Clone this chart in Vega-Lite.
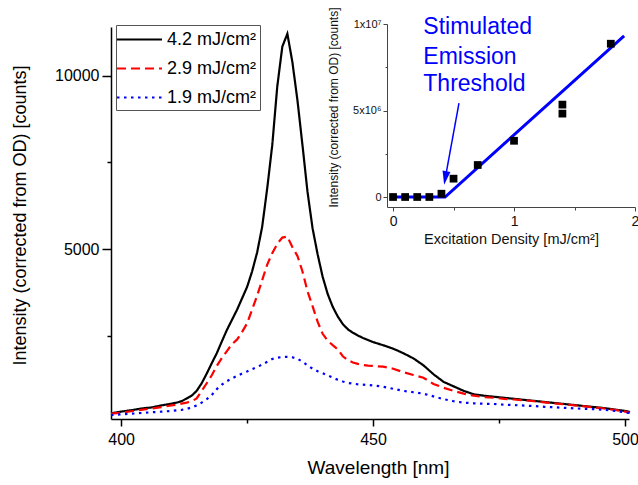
{
"$schema": "https://vega.github.io/schema/vega-lite/v6.json",
"width": 518, "height": 392,
"autosize": {"type": "none"},
"padding": {"left": 111, "top": 27, "right": 9, "bottom": 66},
"background": "white",
"config": {"view": {"stroke": null}, "font": "Liberation Sans",
  "axis": {"grid": false, "labelFont": "Liberation Sans", "titleFont": "Liberation Sans", "titleFontWeight": "normal", "labelColor": "#000", "titleColor": "#000", "labelFlush": false, "labelOverlap": false}},
"datasets": {
"spectra": [
{"s":"4.2 mJ/cm²","wl":398,"c":250},{"s":"4.2 mJ/cm²","wl":400,"c":300},{"s":"4.2 mJ/cm²","wl":402,"c":340},{"s":"4.2 mJ/cm²","wl":404,"c":390},{"s":"4.2 mJ/cm²","wl":406,"c":420},{"s":"4.2 mJ/cm²","wl":408,"c":480},{"s":"4.2 mJ/cm²","wl":410,"c":530},{"s":"4.2 mJ/cm²","wl":411,"c":560},{"s":"4.2 mJ/cm²","wl":412,"c":600},{"s":"4.2 mJ/cm²","wl":413,"c":680},{"s":"4.2 mJ/cm²","wl":414,"c":760},{"s":"4.2 mJ/cm²","wl":415,"c":900},{"s":"4.2 mJ/cm²","wl":416,"c":1120},{"s":"4.2 mJ/cm²","wl":417,"c":1400},{"s":"4.2 mJ/cm²","wl":418,"c":1700},{"s":"4.2 mJ/cm²","wl":419,"c":1990},{"s":"4.2 mJ/cm²","wl":420,"c":2330},{"s":"4.2 mJ/cm²","wl":421,"c":2660},{"s":"4.2 mJ/cm²","wl":422,"c":2950},{"s":"4.2 mJ/cm²","wl":423,"c":3240},{"s":"4.2 mJ/cm²","wl":424,"c":3570},{"s":"4.2 mJ/cm²","wl":425,"c":3900},{"s":"4.2 mJ/cm²","wl":426,"c":4350},{"s":"4.2 mJ/cm²","wl":427,"c":4900},{"s":"4.2 mJ/cm²","wl":428,"c":5640},{"s":"4.2 mJ/cm²","wl":429,"c":6750},{"s":"4.2 mJ/cm²","wl":430,"c":8000},{"s":"4.2 mJ/cm²","wl":431,"c":9700},{"s":"4.2 mJ/cm²","wl":432,"c":10850},{"s":"4.2 mJ/cm²","wl":433,"c":11220},{"s":"4.2 mJ/cm²","wl":434,"c":10400},{"s":"4.2 mJ/cm²","wl":435,"c":9300},{"s":"4.2 mJ/cm²","wl":436,"c":8000},{"s":"4.2 mJ/cm²","wl":437,"c":6650},{"s":"4.2 mJ/cm²","wl":438,"c":5600},{"s":"4.2 mJ/cm²","wl":439,"c":4850},{"s":"4.2 mJ/cm²","wl":440,"c":4200},{"s":"4.2 mJ/cm²","wl":441,"c":3700},{"s":"4.2 mJ/cm²","wl":442,"c":3330},{"s":"4.2 mJ/cm²","wl":443,"c":3050},{"s":"4.2 mJ/cm²","wl":444,"c":2830},{"s":"4.2 mJ/cm²","wl":445,"c":2680},{"s":"4.2 mJ/cm²","wl":446,"c":2580},{"s":"4.2 mJ/cm²","wl":447,"c":2500},{"s":"4.2 mJ/cm²","wl":448,"c":2430},{"s":"4.2 mJ/cm²","wl":449,"c":2370},{"s":"4.2 mJ/cm²","wl":450,"c":2310},{"s":"4.2 mJ/cm²","wl":452,"c":2220},{"s":"4.2 mJ/cm²","wl":454,"c":2120},{"s":"4.2 mJ/cm²","wl":456,"c":1990},{"s":"4.2 mJ/cm²","wl":458,"c":1840},{"s":"4.2 mJ/cm²","wl":460,"c":1640},{"s":"4.2 mJ/cm²","wl":462,"c":1380},{"s":"4.2 mJ/cm²","wl":464,"c":1160},{"s":"4.2 mJ/cm²","wl":466,"c":1030},{"s":"4.2 mJ/cm²","wl":468,"c":900},{"s":"4.2 mJ/cm²","wl":470,"c":800},{"s":"4.2 mJ/cm²","wl":472,"c":760},{"s":"4.2 mJ/cm²","wl":474,"c":730},{"s":"4.2 mJ/cm²","wl":476,"c":700},{"s":"4.2 mJ/cm²","wl":478,"c":670},{"s":"4.2 mJ/cm²","wl":480,"c":640},{"s":"4.2 mJ/cm²","wl":482,"c":610},{"s":"4.2 mJ/cm²","wl":484,"c":580},{"s":"4.2 mJ/cm²","wl":486,"c":550},{"s":"4.2 mJ/cm²","wl":488,"c":520},{"s":"4.2 mJ/cm²","wl":490,"c":490},{"s":"4.2 mJ/cm²","wl":492,"c":460},{"s":"4.2 mJ/cm²","wl":494,"c":430},{"s":"4.2 mJ/cm²","wl":496,"c":400},{"s":"4.2 mJ/cm²","wl":498,"c":360},{"s":"4.2 mJ/cm²","wl":500,"c":320},{"s":"4.2 mJ/cm²","wl":501,"c":290},
{"s":"2.9 mJ/cm²","wl":398,"c":240},{"s":"2.9 mJ/cm²","wl":400,"c":270},{"s":"2.9 mJ/cm²","wl":402,"c":310},{"s":"2.9 mJ/cm²","wl":404,"c":350},{"s":"2.9 mJ/cm²","wl":406,"c":390},{"s":"2.9 mJ/cm²","wl":408,"c":430},{"s":"2.9 mJ/cm²","wl":410,"c":480},{"s":"2.9 mJ/cm²","wl":411,"c":500},{"s":"2.9 mJ/cm²","wl":412,"c":530},{"s":"2.9 mJ/cm²","wl":413,"c":560},{"s":"2.9 mJ/cm²","wl":414,"c":600},{"s":"2.9 mJ/cm²","wl":415,"c":680},{"s":"2.9 mJ/cm²","wl":416,"c":900},{"s":"2.9 mJ/cm²","wl":417,"c":1120},{"s":"2.9 mJ/cm²","wl":418,"c":1350},{"s":"2.9 mJ/cm²","wl":419,"c":1620},{"s":"2.9 mJ/cm²","wl":420,"c":1850},{"s":"2.9 mJ/cm²","wl":421,"c":2050},{"s":"2.9 mJ/cm²","wl":422,"c":2250},{"s":"2.9 mJ/cm²","wl":423,"c":2380},{"s":"2.9 mJ/cm²","wl":424,"c":2600},{"s":"2.9 mJ/cm²","wl":425,"c":2850},{"s":"2.9 mJ/cm²","wl":426,"c":3250},{"s":"2.9 mJ/cm²","wl":427,"c":3650},{"s":"2.9 mJ/cm²","wl":428,"c":4100},{"s":"2.9 mJ/cm²","wl":429,"c":4550},{"s":"2.9 mJ/cm²","wl":430,"c":4880},{"s":"2.9 mJ/cm²","wl":431,"c":5150},{"s":"2.9 mJ/cm²","wl":432,"c":5330},{"s":"2.9 mJ/cm²","wl":433,"c":5360},{"s":"2.9 mJ/cm²","wl":434,"c":5050},{"s":"2.9 mJ/cm²","wl":435,"c":4800},{"s":"2.9 mJ/cm²","wl":436,"c":4350},{"s":"2.9 mJ/cm²","wl":437,"c":3780},{"s":"2.9 mJ/cm²","wl":438,"c":3350},{"s":"2.9 mJ/cm²","wl":439,"c":2900},{"s":"2.9 mJ/cm²","wl":440,"c":2550},{"s":"2.9 mJ/cm²","wl":441,"c":2350},{"s":"2.9 mJ/cm²","wl":442,"c":2220},{"s":"2.9 mJ/cm²","wl":443,"c":2100},{"s":"2.9 mJ/cm²","wl":444,"c":1900},{"s":"2.9 mJ/cm²","wl":445,"c":1790},{"s":"2.9 mJ/cm²","wl":446,"c":1720},{"s":"2.9 mJ/cm²","wl":447,"c":1680},{"s":"2.9 mJ/cm²","wl":448,"c":1650},{"s":"2.9 mJ/cm²","wl":449,"c":1630},{"s":"2.9 mJ/cm²","wl":450,"c":1620},{"s":"2.9 mJ/cm²","wl":452,"c":1600},{"s":"2.9 mJ/cm²","wl":454,"c":1540},{"s":"2.9 mJ/cm²","wl":456,"c":1440},{"s":"2.9 mJ/cm²","wl":458,"c":1360},{"s":"2.9 mJ/cm²","wl":460,"c":1280},{"s":"2.9 mJ/cm²","wl":462,"c":1100},{"s":"2.9 mJ/cm²","wl":464,"c":990},{"s":"2.9 mJ/cm²","wl":466,"c":900},{"s":"2.9 mJ/cm²","wl":468,"c":820},{"s":"2.9 mJ/cm²","wl":470,"c":760},{"s":"2.9 mJ/cm²","wl":472,"c":720},{"s":"2.9 mJ/cm²","wl":474,"c":700},{"s":"2.9 mJ/cm²","wl":476,"c":670},{"s":"2.9 mJ/cm²","wl":478,"c":650},{"s":"2.9 mJ/cm²","wl":480,"c":630},{"s":"2.9 mJ/cm²","wl":482,"c":600},{"s":"2.9 mJ/cm²","wl":484,"c":570},{"s":"2.9 mJ/cm²","wl":486,"c":540},{"s":"2.9 mJ/cm²","wl":488,"c":510},{"s":"2.9 mJ/cm²","wl":490,"c":480},{"s":"2.9 mJ/cm²","wl":492,"c":450},{"s":"2.9 mJ/cm²","wl":494,"c":420},{"s":"2.9 mJ/cm²","wl":496,"c":390},{"s":"2.9 mJ/cm²","wl":498,"c":350},{"s":"2.9 mJ/cm²","wl":500,"c":300},{"s":"2.9 mJ/cm²","wl":501,"c":270},
{"s":"1.9 mJ/cm²","wl":398,"c":200},{"s":"1.9 mJ/cm²","wl":400,"c":220},{"s":"1.9 mJ/cm²","wl":402,"c":240},{"s":"1.9 mJ/cm²","wl":404,"c":260},{"s":"1.9 mJ/cm²","wl":406,"c":280},{"s":"1.9 mJ/cm²","wl":408,"c":300},{"s":"1.9 mJ/cm²","wl":410,"c":320},{"s":"1.9 mJ/cm²","wl":411,"c":335},{"s":"1.9 mJ/cm²","wl":412,"c":350},{"s":"1.9 mJ/cm²","wl":413,"c":380},{"s":"1.9 mJ/cm²","wl":414,"c":420},{"s":"1.9 mJ/cm²","wl":415,"c":480},{"s":"1.9 mJ/cm²","wl":416,"c":560},{"s":"1.9 mJ/cm²","wl":417,"c":660},{"s":"1.9 mJ/cm²","wl":418,"c":780},{"s":"1.9 mJ/cm²","wl":419,"c":950},{"s":"1.9 mJ/cm²","wl":420,"c":1080},{"s":"1.9 mJ/cm²","wl":421,"c":1180},{"s":"1.9 mJ/cm²","wl":422,"c":1260},{"s":"1.9 mJ/cm²","wl":423,"c":1330},{"s":"1.9 mJ/cm²","wl":424,"c":1400},{"s":"1.9 mJ/cm²","wl":425,"c":1460},{"s":"1.9 mJ/cm²","wl":426,"c":1530},{"s":"1.9 mJ/cm²","wl":427,"c":1590},{"s":"1.9 mJ/cm²","wl":428,"c":1660},{"s":"1.9 mJ/cm²","wl":429,"c":1740},{"s":"1.9 mJ/cm²","wl":430,"c":1820},{"s":"1.9 mJ/cm²","wl":431,"c":1860},{"s":"1.9 mJ/cm²","wl":432,"c":1880},{"s":"1.9 mJ/cm²","wl":433,"c":1880},{"s":"1.9 mJ/cm²","wl":434,"c":1870},{"s":"1.9 mJ/cm²","wl":435,"c":1830},{"s":"1.9 mJ/cm²","wl":436,"c":1740},{"s":"1.9 mJ/cm²","wl":437,"c":1640},{"s":"1.9 mJ/cm²","wl":438,"c":1540},{"s":"1.9 mJ/cm²","wl":439,"c":1470},{"s":"1.9 mJ/cm²","wl":440,"c":1410},{"s":"1.9 mJ/cm²","wl":441,"c":1350},{"s":"1.9 mJ/cm²","wl":442,"c":1280},{"s":"1.9 mJ/cm²","wl":443,"c":1220},{"s":"1.9 mJ/cm²","wl":444,"c":1170},{"s":"1.9 mJ/cm²","wl":445,"c":1130},{"s":"1.9 mJ/cm²","wl":446,"c":1110},{"s":"1.9 mJ/cm²","wl":447,"c":1090},{"s":"1.9 mJ/cm²","wl":448,"c":1080},{"s":"1.9 mJ/cm²","wl":449,"c":1070},{"s":"1.9 mJ/cm²","wl":450,"c":1060},{"s":"1.9 mJ/cm²","wl":452,"c":1020},{"s":"1.9 mJ/cm²","wl":454,"c":960},{"s":"1.9 mJ/cm²","wl":456,"c":900},{"s":"1.9 mJ/cm²","wl":458,"c":860},{"s":"1.9 mJ/cm²","wl":460,"c":820},{"s":"1.9 mJ/cm²","wl":462,"c":740},{"s":"1.9 mJ/cm²","wl":464,"c":660},{"s":"1.9 mJ/cm²","wl":466,"c":600},{"s":"1.9 mJ/cm²","wl":468,"c":560},{"s":"1.9 mJ/cm²","wl":470,"c":540},{"s":"1.9 mJ/cm²","wl":472,"c":530},{"s":"1.9 mJ/cm²","wl":474,"c":520},{"s":"1.9 mJ/cm²","wl":476,"c":500},{"s":"1.9 mJ/cm²","wl":478,"c":490},{"s":"1.9 mJ/cm²","wl":480,"c":475},{"s":"1.9 mJ/cm²","wl":482,"c":460},{"s":"1.9 mJ/cm²","wl":484,"c":440},{"s":"1.9 mJ/cm²","wl":486,"c":425},{"s":"1.9 mJ/cm²","wl":488,"c":410},{"s":"1.9 mJ/cm²","wl":490,"c":395},{"s":"1.9 mJ/cm²","wl":492,"c":380},{"s":"1.9 mJ/cm²","wl":494,"c":370},{"s":"1.9 mJ/cm²","wl":496,"c":350},{"s":"1.9 mJ/cm²","wl":498,"c":320},{"s":"1.9 mJ/cm²","wl":500,"c":280},{"s":"1.9 mJ/cm²","wl":501,"c":260}
],
"pts": [{"ix":0,"iy":0},{"ix":0.1,"iy":0},{"ix":0.2,"iy":0},{"ix":0.3,"iy":0},{"ix":0.4,"iy":190000},{"ix":0.5,"iy":1060000},{"ix":0.7,"iy":1850000},{"ix":1.0,"iy":3250000},{"ix":1.4,"iy":5340000},{"ix":1.4,"iy":4820000},{"ix":1.8,"iy":8860000}],
"fit": [{"ix":0,"iy":0},{"ix":0.43,"iy":0},{"ix":1.91,"iy":9320000}],
"ann": [{"ix":0.25,"iy":9830000,"t":"Stimulated"},{"ix":0.25,"iy":8090000,"t":"Emission"},{"ix":0.25,"iy":6530000,"t":"Threshold"}],
"arrow": [{"ix":0.545,"iy":5430000,"ix2":0.432,"iy2":1100000}],
"head": [{"ix":0.432,"iy":1100000}]
},
"layer": [
 {"data": {"name": "spectra"},
  "mark": {"type": "line", "strokeWidth": 2.2},
  "encoding": {
   "x": {"field": "wl", "type": "quantitative", "scale": {"domain": [398, 500.8], "nice": false, "zero": false},
     "axis": {"values": [400, 425, 450, 475, 500], "labelExpr": "datum.value % 50 === 0 ? format(datum.value, 'd') : ''",
       "tickSize": {"condition": {"test": "datum.value % 50 !== 0", "value": 4}, "value": 7},
       "labelFontSize": 16, "labelPadding": 5, "domainColor": "#000", "domainWidth": 1.5, "tickColor": "#000", "tickWidth": 1.5,
       "title": "Wavelength [nm]", "titleFontSize": 19, "titleX": 267, "titleY": 48, "titleBaseline": "middle", "titleAlign": "center"}},
   "y": {"field": "c", "type": "quantitative", "scale": {"domain": [87, 11416], "nice": false, "zero": false},
     "axis": {"values": [2500, 5000, 7500, 10000], "labelExpr": "datum.value % 5000 === 0 ? format(datum.value, 'd') : ''",
       "tickSize": {"condition": {"test": "datum.value % 5000 !== 0", "value": 4}, "value": 9},
       "labelFontSize": 16, "labelPadding": 3, "domainColor": "#000", "domainWidth": 1.5, "tickColor": "#000", "tickWidth": 1.5,
       "title": "Intensity (corrected from OD) [counts]", "titleFontSize": 18, "titleX": -91, "titleY": 188, "titleAngle": 270, "titleAlign": "center", "titleBaseline": "middle"}},
   "color": {"field": "s", "type": "nominal",
     "scale": {"domain": ["4.2 mJ/cm²", "2.9 mJ/cm²", "1.9 mJ/cm²"], "range": ["#000000", "#ff0000", "#0000ff"]},
     "legend": {"title": null, "orient": "none", "legendX": 5, "legendY": -2, "strokeColor": "#555", "fillColor": "white", "padding": 3,
       "symbolType": "M-2.25,0H2.25", "symbolSize": 400, "symbolOffset": 9, "symbolStrokeWidth": 2.2, "labelFontSize": 18, "labelFont": "Liberation Sans", "labelColor": "#000", "rowPadding": 8, "labelOffset": 16}},
   "strokeDash": {"field": "s", "type": "nominal",
     "scale": {"domain": ["4.2 mJ/cm²", "2.9 mJ/cm²", "1.9 mJ/cm²"], "range": [[1, 0], [9, 5], [2.5, 4.5]]},
     "legend": {"title": null, "orient": "none", "legendX": 5, "legendY": -2, "strokeColor": "#555", "fillColor": "white", "padding": 3,
       "symbolType": "M-2.25,0H2.25", "symbolSize": 400, "symbolOffset": 9, "symbolStrokeWidth": 2.2, "labelFontSize": 18, "labelFont": "Liberation Sans", "labelColor": "#000", "rowPadding": 8, "labelOffset": 16}}
  }},
 {"layer": [
   {"data": {"name": "fit"},
    "mark": {"type": "line", "color": "#0000ff", "strokeWidth": 3},
    "encoding": {
     "x": {"field": "ix", "type": "quantitative", "title": "Excitation Density [mJ/cm²]",
       "scale": {"domain": [-0.05, 2.0], "range": [276, 524], "nice": false, "zero": false},
       "axis": {"orient": "bottom", "offset": -212, "values": [0, 0.5, 1, 1.5, 2],
         "labelExpr": "datum.value % 1 === 0 ? format(datum.value, 'd') : ''",
         "tickSize": {"condition": {"test": "datum.value % 1 !== 0", "value": 3}, "value": 4},
         "labelFontSize": 14, "labelPadding": 3, "domainColor": "#444", "tickColor": "#444", "domainWidth": 1, "tickWidth": 1, "labelColor": "#111",
         "titleFontSize": 14.5, "titleY": 32, "titleBaseline": "middle", "titleColor": "#111"}},
     "y": {"field": "iy", "type": "quantitative", "title": "Intensity (corrected from OD) [counts]",
       "scale": {"domain": [-578000, 10000000], "range": [180, -3], "nice": false, "zero": false},
       "axis": {"orient": "left", "offset": -276, "values": [0, 2500000, 5000000, 7500000, 10000000],
         "labelExpr": "datum.value === 0 ? '0' : datum.value === 5000000 ? '5x10⁶' : datum.value === 10000000 ? '1x10⁷' : ''",
         "tickSize": {"condition": {"test": "datum.value % 5000000 !== 0", "value": 2}, "value": 4},
         "labelFontSize": 11, "labelPadding": 2, "domainColor": "#444", "tickColor": "#444", "domainWidth": 1, "tickWidth": 1, "labelColor": "#111",
         "titleFontSize": 12, "titleX": -54, "titleY": 80, "titleAngle": 270, "titleAlign": "center", "titleBaseline": "middle", "titleColor": "#111"}}
    }},
   {"data": {"name": "pts"},
    "mark": {"type": "point", "shape": "square", "filled": true, "color": "#000", "size": 60, "opacity": 1},
    "encoding": {
     "x": {"field": "ix", "type": "quantitative", "title": "Excitation Density [mJ/cm²]"},
     "y": {"field": "iy", "type": "quantitative", "title": "Intensity (corrected from OD) [counts]"}
    }},
   {"data": {"name": "arrow"},
    "mark": {"type": "rule", "color": "#0000ff", "strokeWidth": 1.5},
    "encoding": {
     "x": {"field": "ix", "type": "quantitative", "title": "Excitation Density [mJ/cm²]"},
     "y": {"field": "iy", "type": "quantitative", "title": "Intensity (corrected from OD) [counts]"},
     "x2": {"field": "ix2"},
     "y2": {"field": "iy2"}
    }},
   {"data": {"name": "head"},
    "mark": {"type": "point", "shape": "M-1,-1.7L1,-1.7L0,1.7Z", "filled": true, "color": "#0000ff", "size": 64, "angle": 10, "opacity": 1},
    "encoding": {
     "x": {"field": "ix", "type": "quantitative", "title": "Excitation Density [mJ/cm²]"},
     "y": {"field": "iy", "type": "quantitative", "title": "Intensity (corrected from OD) [counts]"}
    }},
   {"data": {"name": "ann"},
    "mark": {"type": "text", "align": "left", "baseline": "middle", "fontSize": 23, "font": "Liberation Sans", "color": "#0000ff"},
    "encoding": {
     "x": {"field": "ix", "type": "quantitative", "title": "Excitation Density [mJ/cm²]"},
     "y": {"field": "iy", "type": "quantitative", "title": "Intensity (corrected from OD) [counts]"},
     "text": {"field": "t"}
    }}
 ]}
],
"resolve": {"scale": {"x": "independent", "y": "independent"}}
}
